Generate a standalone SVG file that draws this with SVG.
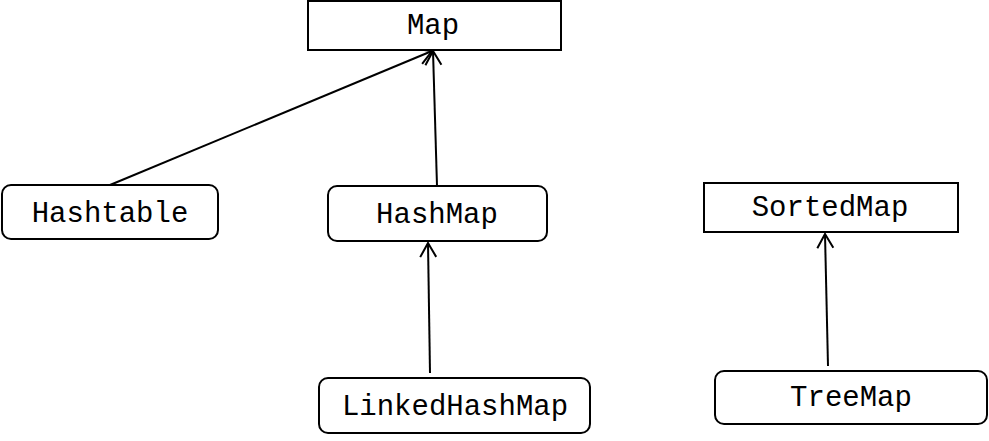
<svg xmlns="http://www.w3.org/2000/svg" width="989" height="441" viewBox="0 0 989 441">
<style>
.box{fill:#fff;stroke:#000;stroke-width:2}
.lbl{font-family:"Liberation Mono","Courier New",monospace;font-size:29px;fill:#000;text-anchor:middle}
.con{stroke:#000;stroke-width:2;fill:none;marker-end:url(#open)}
</style>
<defs>
<marker id="open" viewBox="0 0 20 20" refX="18" refY="10" markerWidth="20" markerHeight="20" markerUnits="userSpaceOnUse" orient="auto">
<path d="M4,2 L18,10 L4,18" fill="none" stroke="#000" stroke-width="2"/>
</marker>
</defs>
<rect width="989" height="441" fill="#fff"/>
<g id="connectors">
<line class="con" x1="110" y1="185" x2="432" y2="51"/>
<line class="con" x1="437" y1="186" x2="433" y2="51"/>
<line class="con" x1="430" y1="373" x2="428" y2="243"/>
<line class="con" x1="828" y1="366" x2="825" y2="234"/>
</g>
<g id="map"><rect class="box" x="308" y="1" width="253" height="49"/><text class="lbl" x="433" y="34">Map</text></g>
<g id="hashtable"><rect class="box" x="2" y="185" width="216" height="54" rx="9"/><text class="lbl" x="110" y="222">Hashtable</text></g>
<g id="hashmap"><rect class="box" x="328" y="186" width="219" height="55" rx="9"/><text class="lbl" x="437" y="223">HashMap</text></g>
<g id="linkedhashmap"><rect class="box" x="319" y="378" width="271" height="55" rx="9"/><text class="lbl" x="455" y="415">LinkedHashMap</text></g>
<g id="sortedmap"><rect class="box" x="704" y="183" width="254" height="49"/><text class="lbl" x="830" y="216">SortedMap</text></g>
<g id="treemap"><rect class="box" x="715" y="371" width="272" height="53" rx="9"/><text class="lbl" x="851" y="406">TreeMap</text></g>
</svg>
